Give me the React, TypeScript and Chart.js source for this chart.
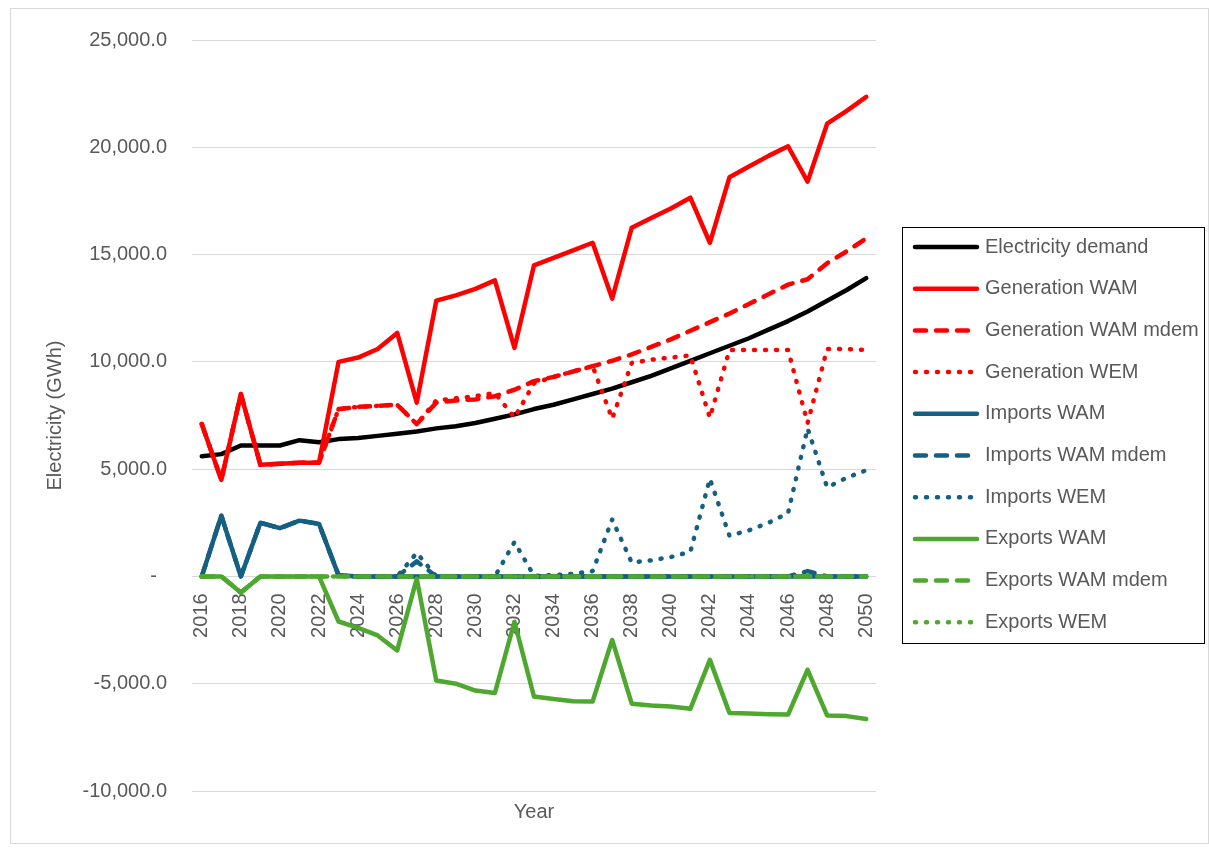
import React, { useEffect, useRef } from 'react';
import { Chart, registerables } from 'chart.js';

Chart.register(...registerables);

if (typeof document !== 'undefined') {
  document.body.style.margin = '0';
}

const years = [
  '2016', '2017', '2018', '2019', '2020', '2021', '2022', '2023', '2024', '2025',
  '2026', '2027', '2028', '2029', '2030', '2031', '2032', '2033', '2034', '2035',
  '2036', '2037', '2038', '2039', '2040', '2041', '2042', '2043', '2044', '2045',
  '2046', '2047', '2048', '2049', '2050',
];

const electricityDemand = [
  5600, 5700, 6100, 6100, 6100, 6350, 6250, 6400, 6450, 6550,
  6650, 6750, 6900, 7000, 7150, 7350, 7550, 7800, 8000, 8250,
  8500, 8750, 9050, 9350, 9700, 10050, 10400, 10750, 11100, 11500,
  11900, 12350, 12850, 13350, 13900,
];

const generationWAM = [
  7100, 4500, 8500, 5200, 5250, 5300, 5300, 10000, 10200, 10600,
  11350, 8100, 12850, 13100, 13400, 13800, 10650, 14500, 14850, 15200,
  15550, 12950, 16250, 16700, 17150, 17650, 15550, 18600, 19100, 19600,
  20050, 18400, 21100, 21700, 22350,
];

const generationWAMmdem = [
  7100, 4500, 8500, 5200, 5250, 5300, 5300, 7800, 7900, 7950,
  8000, 7100, 8100, 8200, 8250, 8400, 8700, 9100, 9300, 9550,
  9800, 10050, 10350, 10700, 11050, 11450, 11850, 12250, 12700, 13150,
  13600, 13850, 14600, 15150, 15750,
];

const generationWEM = [
  7100, 4500, 8500, 5200, 5250, 5300, 5300, 7800, 7900, 7950,
  8000, 7100, 8200, 8300, 8400, 8550, 7400, 9000, 9300, 9550,
  9800, 7350, 9950, 10100, 10200, 10300, 7400, 10550, 10550, 10550,
  10550, 7150, 10600, 10600, 10550,
];

const importsWAM = [
  0, 2830, 0, 2500, 2250, 2600, 2450, 50, 0, 0,
  0, 0, 0, 0, 0, 0, 0, 0, 0, 0,
  0, 0, 0, 0, 0, 0, 0, 0, 0, 0,
  0, 0, 0, 0, 0,
];

const importsWAMmdem = [
  0, 2830, 0, 2500, 2250, 2600, 2450, 50, 0, 0,
  0, 700, 0, 0, 0, 0, 0, 0, 0, 0,
  0, 0, 0, 0, 0, 0, 0, 0, 0, 0,
  0, 250, 0, 0, 0,
];

const importsWEM = [
  0, 2830, 0, 2500, 2250, 2600, 2450, 50, 0, 0,
  0, 1100, 0, 0, 0, 0, 1600, 30, 60, 120,
  250, 2650, 650, 750, 900, 1150, 4550, 1900, 2150, 2500,
  2950, 6900, 4150, 4600, 4950,
];

const exportsWAM = [
  0, 0, -750, 0, 0, 0, 0, -2100, -2400, -2750,
  -3450, -100, -4850, -5000, -5320, -5430, -2110, -5600, -5710, -5820,
  -5830, -2960, -5930, -6020, -6060, -6170, -3890, -6360, -6390, -6420,
  -6440, -4350, -6480, -6510, -6640,
];

const exportsWAMmdem = [
  0, 0, -750, 0, 0, 0, 0, 0, 0, 0,
  0, 0, 0, 0, 0, 0, 0, 0, 0, 0,
  0, 0, 0, 0, 0, 0, 0, 0, 0, 0,
  0, 0, 0, 0, 0,
];

const exportsWEM = [
  0, 0, -750, 0, 0, 0, 0, 0, 0, 0,
  0, 0, 0, 0, 0, 0, 0, 0, 0, 0,
  0, 0, 0, 0, 0, 0, 0, 0, 0, 0,
  0, 0, 0, 0, 0,
];

const yTickValues = [-10000, -5000, 0, 5000, 10000, 15000, 20000, 25000];

const FONT = '"Liberation Sans", Arial, sans-serif';
const TEXT = '#595959';
const BLACK = '#000000';
const RED = '#FF0000';
const BLUE = '#156082';
const GREEN = '#4EA72E';
const SOLID: number[] = [];
const DASH = [11, 10];
const DOT = [1, 10];

const seriesDefs = [
  { label: 'Electricity demand', data: electricityDemand, color: BLACK, dash: SOLID },
  { label: 'Generation WAM', data: generationWAM, color: RED, dash: SOLID },
  { label: 'Generation WAM mdem', data: generationWAMmdem, color: RED, dash: DASH },
  { label: 'Generation WEM', data: generationWEM, color: RED, dash: DOT },
  { label: 'Imports WAM', data: importsWAM, color: BLUE, dash: SOLID },
  { label: 'Imports WAM mdem', data: importsWAMmdem, color: BLUE, dash: DASH },
  { label: 'Imports WEM', data: importsWEM, color: BLUE, dash: DOT },
  { label: 'Exports WAM', data: exportsWAM, color: GREEN, dash: SOLID },
  { label: 'Exports WAM mdem', data: exportsWAMmdem, color: GREEN, dash: DASH },
  { label: 'Exports WEM', data: exportsWEM, color: GREEN, dash: DOT },
];

const boxLegend = {
  id: 'boxLegend',
  afterDraw(chart: any) {
    const ctx = chart.ctx as CanvasRenderingContext2D;
    const x0 = 891;
    const y0 = 218;
    const w = 302;
    const h = 416;
    ctx.save();
    ctx.setLineDash([]);
    ctx.strokeStyle = '#000000';
    ctx.lineWidth = 1;
    ctx.strokeRect(x0 + 0.5, y0 + 0.5, w, h);
    chart.data.datasets.forEach((ds: any, i: number) => {
      const cy = y0 + 20 + i * 41.7;
      ctx.beginPath();
      ctx.setLineDash(ds.borderDash || []);
      ctx.lineCap = 'round';
      ctx.lineWidth = ds.borderWidth;
      ctx.strokeStyle = ds.borderColor;
      ctx.moveTo(x0 + 13, cy);
      ctx.lineTo(x0 + 75, cy);
      ctx.stroke();
      ctx.setLineDash([]);
      ctx.fillStyle = TEXT;
      ctx.font = `20px ${FONT}`;
      ctx.textBaseline = 'middle';
      ctx.textAlign = 'left';
      ctx.fillText(ds.label, x0 + 83, cy);
    });
    ctx.restore();
  },
};

function formatY(v: number): string {
  if (v === 0) return '-\u2002';
  return v.toLocaleString('en-US', { minimumFractionDigits: 1, maximumFractionDigits: 1 });
}

export default function App() {
  const canvasRef = useRef<HTMLCanvasElement | null>(null);

  useEffect(() => {
    if (!canvasRef.current) return;
    const n = seriesDefs.length;
    const chart = new Chart(canvasRef.current, {
      type: 'line',
      data: {
        labels: years,
        datasets: seriesDefs.map((s, i) => ({
          label: s.label,
          data: s.data,
          borderColor: s.color,
          backgroundColor: s.color,
          borderWidth: 4.5,
          borderDash: s.dash,
          borderCapStyle: 'round',
          borderJoinStyle: 'round',
          pointRadius: 0,
          pointHoverRadius: 0,
          fill: false,
          tension: 0,
          order: n - i,
        })),
      },
      options: {
        animation: false,
        responsive: false,
        devicePixelRatio: 1,
        layout: { padding: { left: 32, top: 31, right: 332, bottom: 19 } },
        plugins: {
          legend: { display: false },
          tooltip: { enabled: false },
        },
        scales: {
          x: {
            type: 'category',
            position: { y: 0 } as any,
            offset: true,
            grid: { display: false, drawTicks: false },
            border: { display: false },
            ticks: {
              autoSkip: false,
              maxRotation: 90,
              minRotation: 90,
              padding: 17,
              color: TEXT,
              font: { family: FONT, size: 20 },
              callback: (_v: any, i: number) => (i % 2 === 0 ? years[i] : ''),
            },
          },
          x2: {
            type: 'category',
            position: 'bottom',
            grid: { display: false, drawTicks: false },
            border: { display: false },
            ticks: { display: false },
            title: {
              display: true,
              text: 'Year',
              color: TEXT,
              font: { family: FONT, size: 20 },
              padding: 0,
            },
            afterFit: (s: any) => {
              s.height = 33;
            },
          },
          y: {
            type: 'linear',
            min: -10000,
            max: 25000,
            afterBuildTicks: (s: any) => {
              s.ticks = yTickValues.map((v) => ({ value: v }));
            },
            grid: {
              color: '#D9D9D9',
              lineWidth: 1,
              drawTicks: true,
              tickLength: 25,
              tickColor: 'rgba(0,0,0,0)',
            },
            border: { display: false },
            ticks: {
              padding: 0,
              color: TEXT,
              font: { family: FONT, size: 20 },
              callback: (v: any) => formatY(Number(v)),
            },
            title: {
              display: true,
              text: 'Electricity (GWh)',
              color: TEXT,
              font: { family: FONT, size: 20 },
              padding: 0,
            },
            afterFit: (s: any) => {
              s.width = 149;
            },
          },
        },
      },
      plugins: [boxLegend],
    } as any);
    return () => chart.destroy();
  }, []);

  return (
    <div style={{ paddingTop: 8, paddingLeft: 10, paddingBottom: 4, width: 1209, boxSizing: 'border-box' }}>
      <div
        style={{
          width: 1197,
          height: 834,
          border: '1px solid #D9D9D9',
          background: '#FFFFFF',
        }}
      >
        <canvas ref={canvasRef} width={1197} height={834} style={{ display: 'block' }} />
      </div>
    </div>
  );
}
